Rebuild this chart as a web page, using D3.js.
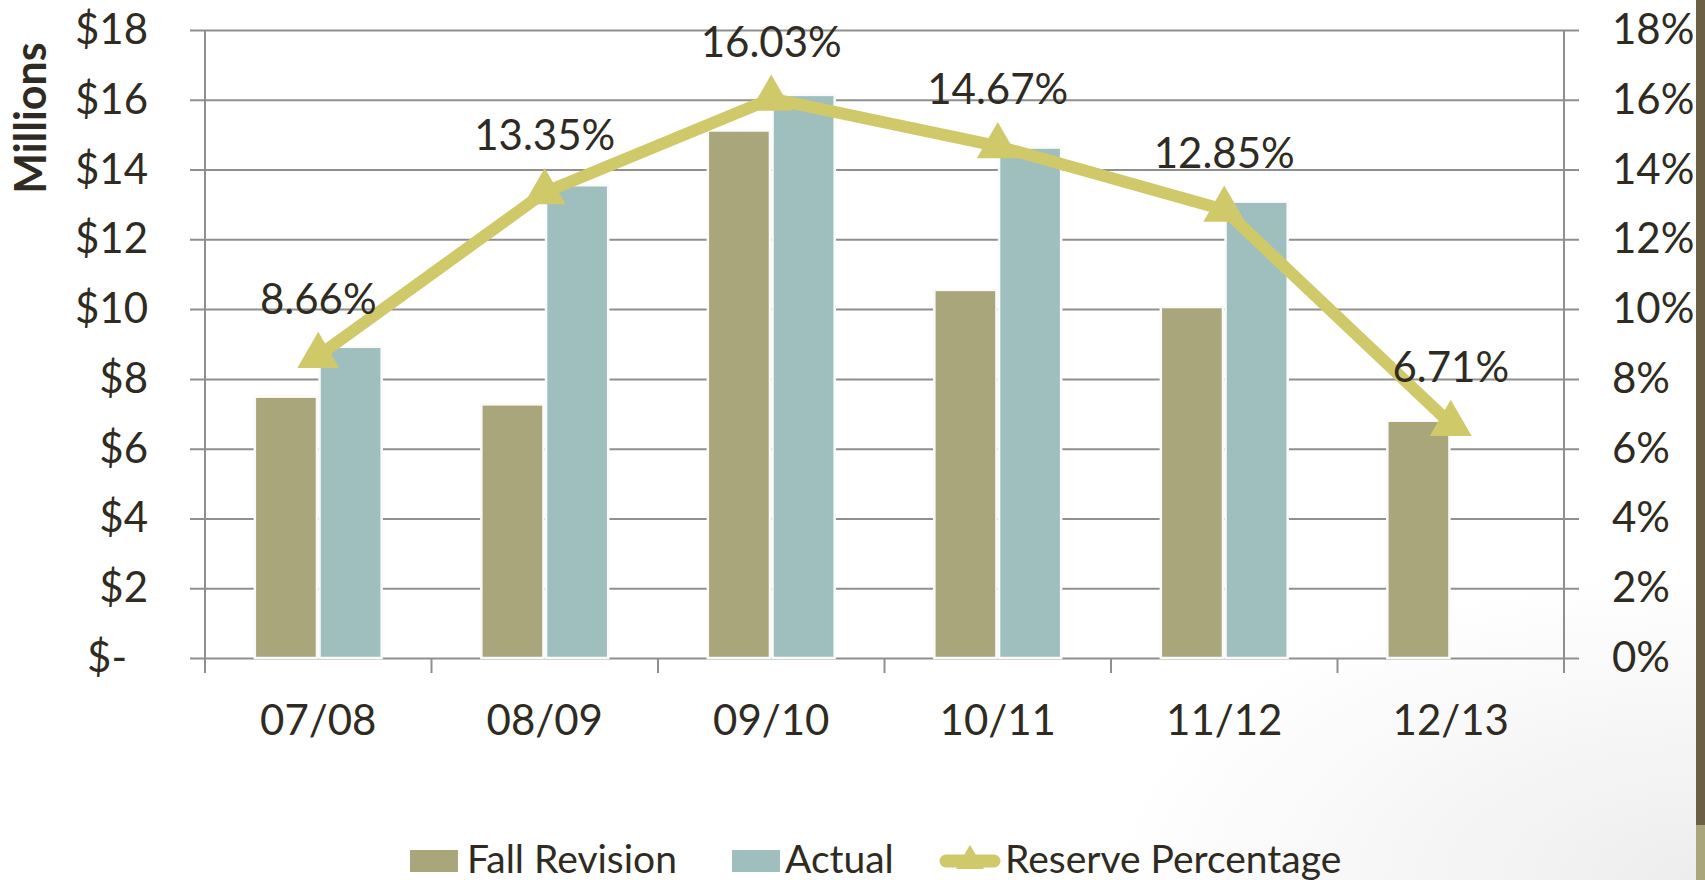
<!DOCTYPE html>
<html>
<head>
<meta charset="utf-8">
<script src="https://cdnjs.cloudflare.com/ajax/libs/d3/7.8.5/d3.min.js"></script>
<style>
  html, body { margin: 0; padding: 0; background: #fff; }
  svg { display: block; }
  text { font-family: Lato, "Noto Sans", sans-serif; fill: #2f2b22; }
</style>
</head>
<body>
<div id="container"></div>
<script>
const categories = ["07/08", "08/09", "09/10", "10/11", "11/12", "12/13"];
const fallRevision = [7.49, 7.27, 15.12, 10.55, 10.06, 6.8];
const actual = [8.92, 13.55, 16.14, 14.63, 13.08, null];
const reservePct = [8.66, 13.35, 16.03, 14.67, 12.85, 6.71];
const moneyTicks = [0, 2, 4, 6, 8, 10, 12, 14, 16, 18];
const pctTicks = [0, 2, 4, 6, 8, 10, 12, 14, 16, 18];
const seriesNames = ["Fall Revision", "Actual", "Reserve Percentage"];

const width = 1705;
const height = 880;
const plot = { left: 205, right: 1564, top: 30, bottom: 658 };
const colors = { fall: "#a9a67b", actual: "#9ebfbe", line: "#cfc96a", grid: "#8f8f8f" };
const fontSize = 42;

const svg = d3
  .select("#container")
  .append("svg")
  .attr("width", width)
  .attr("height", height);

// faint grey shading toward the bottom right, like the slide background
const grad = svg.append("defs").append("radialGradient")
  .attr("id", "bg")
  .attr("cx", "1").attr("cy", "1").attr("r", "0.35");
grad.append("stop").attr("offset", "0").attr("stop-color", "#ededed");
grad.append("stop").attr("offset", "1").attr("stop-color", "#ffffff");
svg.append("rect").attr("width", width).attr("height", height).attr("fill", "url(#bg)");
svg.append("rect").attr("x", 1696).attr("y", 0).attr("width", 9).attr("height", 825).attr("fill", "#6b5f45");
svg.append("rect").attr("x", 1696).attr("y", 825).attr("width", 9).attr("height", 55).attr("fill", "#a9a67b");

const x = d3.scaleBand().domain(categories).range([plot.left, plot.right]);
const bw = x.bandwidth();
const x1 = d3.scaleBand().domain(["fall", "actual"]).range([bw * 0.22, bw * 0.78]).paddingInner(0.04);
const y = d3.scaleLinear().domain([0, 18]).range([plot.bottom, plot.top]);
const yPct = d3.scaleLinear().domain([0, 18]).range([plot.bottom, plot.top]);

// gridlines (run 15px past both axes)
svg.append("g")
  .attr("transform", `translate(${plot.left - 15},0)`)
  .call(d3.axisRight(y).tickValues(moneyTicks).tickSize(plot.right - plot.left + 30).tickFormat(""))
  .call((g) => g.select(".domain").remove())
  .call((g) => g.selectAll("line").attr("stroke", colors.grid).attr("stroke-width", 2));

// vertical axis lines
[plot.left, plot.right].forEach((xx) => {
  svg.append("line")
    .attr("x1", xx).attr("x2", xx)
    .attr("y1", plot.top).attr("y2", plot.bottom + 15)
    .attr("stroke", colors.grid).attr("stroke-width", 2);
});

// category boundary ticks
const boundaries = categories.map((c) => x(c)).concat([x.range()[1]]);
svg.append("g")
  .selectAll("line")
  .data(boundaries.slice(1, -1))
  .enter()
  .append("line")
  .attr("x1", (d) => d).attr("x2", (d) => d)
  .attr("y1", plot.bottom).attr("y2", plot.bottom + 15)
  .attr("stroke", colors.grid).attr("stroke-width", 2);

// left axis labels
const leftAxis = svg.append("g")
  .attr("transform", `translate(${plot.left},0)`)
  .call(d3.axisLeft(y).tickValues(moneyTicks).tickSize(0).tickPadding(57)
    .tickFormat((d) => (d === 0 ? "$-" : "$" + d)))
  .call((g) => g.select(".domain").remove());
leftAxis.selectAll("text")
  .attr("font-size", fontSize)
  .style("font-family", "Lato, sans-serif")
  .attr("fill", "#2f2b22")
  .attr("dx", (d) => (d === 0 ? -21 : 0));

// right axis labels
const rightAxis = svg.append("g")
  .attr("transform", `translate(${plot.right},0)`)
  .call(d3.axisRight(yPct).tickValues(pctTicks).tickSize(0).tickPadding(48).tickFormat((d) => d + "%"))
  .call((g) => g.select(".domain").remove());
rightAxis.selectAll("text")
  .attr("font-size", fontSize)
  .style("font-family", "Lato, sans-serif")
  .attr("fill", "#2f2b22");

// x axis labels
const bottomAxis = svg.append("g")
  .attr("transform", `translate(0,${plot.bottom})`)
  .call(d3.axisBottom(x).tickSize(0).tickPadding(47))
  .call((g) => g.select(".domain").remove());
bottomAxis.selectAll("text")
  .attr("font-size", fontSize)
  .style("font-family", "Lato, sans-serif")
  .attr("fill", "#2f2b22");

// y title
svg.append("text")
  .attr("transform", "translate(46,118) rotate(-90)")
  .attr("text-anchor", "middle")
  .attr("font-size", 43)
  .attr("font-weight", 700)
  .text("Millions");

// bars
const groups = svg.append("g")
  .selectAll("g")
  .data(categories)
  .enter()
  .append("g")
  .attr("transform", (d) => `translate(${x(d)},0)`);

groups.append("rect")
  .attr("x", x1("fall"))
  .attr("width", x1.bandwidth())
  .attr("y", (d, i) => y(fallRevision[i]))
  .attr("height", (d, i) => y(0) - y(fallRevision[i]))
  .attr("fill", colors.fall)
  .attr("stroke", "#fafafa")
  .attr("stroke-width", 2.5);

groups.filter((d, i) => actual[i] != null)
  .append("rect")
  .attr("x", x1("actual"))
  .attr("width", x1.bandwidth())
  .attr("y", (d) => y(actual[categories.indexOf(d)]))
  .attr("height", (d) => y(0) - y(actual[categories.indexOf(d)]))
  .attr("fill", colors.actual)
  .attr("stroke", "#fafafa")
  .attr("stroke-width", 2.5);

// reserve percentage line
const cx = (d) => x(d) + bw / 2;
const line = d3.line()
  .x((d, i) => cx(categories[i]))
  .y((d) => yPct(d));

svg.append("path")
  .datum(reservePct)
  .attr("d", line)
  .attr("fill", "none")
  .attr("stroke", colors.line)
  .attr("stroke-width", 12)
  .attr("stroke-linejoin", "round");

const tri = d3.symbol().type(d3.symbolTriangle).size(760);
svg.append("g")
  .selectAll("path")
  .data(reservePct)
  .enter()
  .append("path")
  .attr("d", tri)
  .attr("transform", (d, i) => `translate(${cx(categories[i])},${yPct(d)})`)
  .attr("fill", colors.line);

svg.append("g")
  .selectAll("text")
  .data(reservePct)
  .enter()
  .append("text")
  .attr("x", (d, i) => cx(categories[i]))
  .attr("y", (d) => yPct(d) - 42)
  .attr("text-anchor", "middle")
  .attr("font-size", fontSize)
  .text((d) => d.toFixed(2) + "%");

// legend
const legend = svg.append("g");
const legendY = 861;
const legendFont = 39;

legend.append("rect").attr("x", 410).attr("y", legendY - 11).attr("width", 48).attr("height", 22).attr("fill", colors.fall);
legend.append("text").attr("x", 467).attr("y", legendY + 12).attr("font-size", legendFont).text(seriesNames[0]);

legend.append("rect").attr("x", 732).attr("y", legendY - 11).attr("width", 48).attr("height", 22).attr("fill", colors.actual);
legend.append("text").attr("x", 785).attr("y", legendY + 12).attr("font-size", legendFont).text(seriesNames[1]);

legend.append("line")
  .attr("x1", 946).attr("x2", 994)
  .attr("y1", legendY).attr("y2", legendY)
  .attr("stroke", colors.line).attr("stroke-width", 13).attr("stroke-linecap", "round");
legend.append("path")
  .attr("d", d3.symbol().type(d3.symbolTriangle).size(340))
  .attr("transform", `translate(970,${legendY})`)
  .attr("fill", colors.line);
legend.append("text").attr("x", 1005).attr("y", legendY + 12).attr("font-size", legendFont).text(seriesNames[2]);
</script>
</body>
</html>
